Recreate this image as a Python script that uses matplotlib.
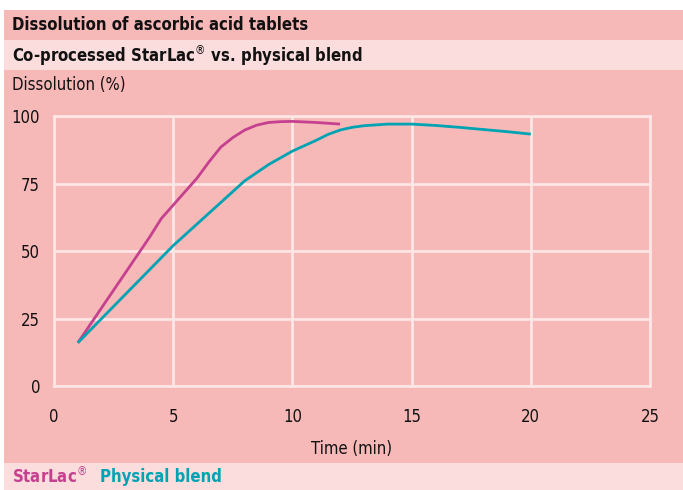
import matplotlib
matplotlib.use("Agg")
import matplotlib.pyplot as plt
from matplotlib.patches import Rectangle

plt.rcParams['font.family'] = ['DejaVu Sans']
plt.rcParams['font.stretch'] = 'condensed'

title = "Dissolution of ascorbic acid tablets"
subtitle = "Co-processed StarLac$^{\u00ae}$ vs. physical blend"
ylabel = "Dissolution (%)"
xlabel = "Time (min)"

starlac_t = [1, 2, 3, 4, 4.5, 5, 5.5, 6, 6.5, 7, 7.5, 8, 8.5, 9, 9.5, 10, 11, 12]
starlac_v = [16, 29, 42, 55, 62, 67, 72, 77, 83, 88.5, 92, 94.8, 96.6, 97.6, 97.9, 98, 97.6, 97]
blend_t = [1, 2, 3, 4, 5, 6, 7, 8, 9, 10, 11, 11.5, 12, 12.5, 13, 14, 15, 16, 17, 18, 19, 20]
blend_v = [16, 25, 34, 43, 52, 60, 68, 76, 82, 87, 91, 93.2, 94.8, 95.8, 96.4, 97, 97, 96.5, 95.8, 95, 94.2, 93.3]
series_names = ["StarLac$^{\u00ae}$", "Physical blend"]
series_colors = ["#c5408f", "#00a3b4"]

xticks = [0, 5, 10, 15, 20, 25]
yticks = [0, 25, 50, 75, 100]

PINK = "#f7b8b8"
LIGHT = "#fbdddd"

W, H = 683, 490
fig = plt.figure(figsize=(W / 100, H / 100), dpi=100)
fig.patch.set_facecolor("white")

def band(y0, y1, color):
    fig.add_artist(Rectangle((4 / W, 1 - y1 / H), 1 - 4 / W, (y1 - y0) / H,
                             transform=fig.transFigure, facecolor=color,
                             edgecolor="none", zorder=0))

band(10, 40, PINK)
band(40, 70, LIGHT)
band(70, 463, PINK)
band(463, 490, LIGHT)

fig.text(12 / W, 1 - 25.5 / H, title, fontsize=12, fontweight="bold",
         va="center", ha="left", color="#111111")
fig.text(12 / W, 1 - 55.5 / H, subtitle, fontsize=12, fontweight="bold",
         va="center", ha="left", color="#111111")
fig.text(12 / W, 1 - 85 / H, ylabel, fontsize=12, va="center", ha="left",
         color="#111111")

ax = fig.add_axes([54 / W, 1 - 386 / H, (650 - 54) / W, (386 - 116) / H])
ax.set_facecolor(PINK)
ax.plot(starlac_t, starlac_v, color=series_colors[0], lw=2.0, zorder=3,
        solid_capstyle="butt", solid_joinstyle="round")
ax.plot(blend_t, blend_v, color=series_colors[1], lw=2.0, zorder=3,
        solid_capstyle="butt", solid_joinstyle="round")
ax.set_xlim(0, 25)
ax.set_ylim(0, 100)
ax.set_xticks(xticks)
ax.set_yticks(yticks)
ax.grid(True, color="#fde6e6", lw=2)
for s in ax.spines.values():
    s.set_color("#fde6e6")
    s.set_linewidth(2)
ax.tick_params(length=0, labelsize=12, colors="#111111")
ax.tick_params(axis="x", pad=16)
ax.tick_params(axis="y", pad=10)
ax.set_xlabel(xlabel, fontsize=12, color="#111111", labelpad=10)

fig.text(12 / W, 1 - 477 / H, series_names[0], fontsize=12, fontweight="bold",
         va="center", ha="left", color=series_colors[0])
fig.text(100 / W, 1 - 477 / H, series_names[1], fontsize=12, fontweight="bold",
         va="center", ha="left", color=series_colors[1])

fig.savefig("out.png", dpi=100, facecolor=fig.get_facecolor())
